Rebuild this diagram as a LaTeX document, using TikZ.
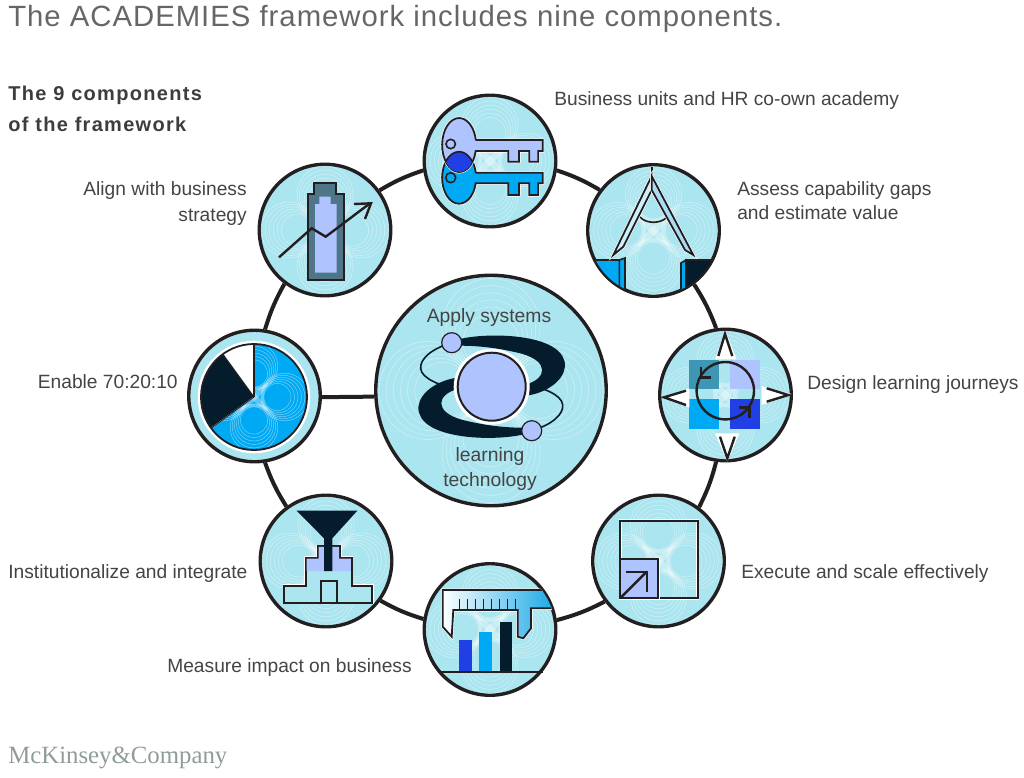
\documentclass[tikz,border=0pt]{standalone}
\usepackage{fontspec}
\setmainfont{Liberation Sans}
\newfontfamily\logofont{Liberation Serif}
\usetikzlibrary{arrows}

\definecolor{ink}{HTML}{231F20}
\definecolor{navy}{HTML}{051C2C}
\definecolor{pale}{HTML}{ABE5EF}
\definecolor{peri}{HTML}{AFC3FF}
\definecolor{sky}{HTML}{00A9F4}
\definecolor{cobalt}{HTML}{2040E6}
\definecolor{teal}{HTML}{3C96B4}
\definecolor{slate}{HTML}{4F7688}
\definecolor{label}{HTML}{444444}
\definecolor{logotype}{HTML}{8E9C9A}

% rings of one component, centred on #1,#2 and scaled by #3
\newcommand{\ripples}[3]{%
	\begin{scope}[shift={(#1,#2)},scale=#3]
		\foreach \ang in {0,90,180,270}
			\foreach \rad in {16,18.4,20.8,23.2,25.6,28}
				\draw[white,opacity=.45,line width=.5pt] (\ang:36-.7*28+.7*\rad) circle (\rad);
		\foreach \ang in {45,135}
			\fill[white,opacity=.35,rotate=\ang] (-24,0) .. controls (-8,-5) and (8,-5) .. (24,0) .. controls (8,5) and (-8,5) .. (-24,0);
	\end{scope}}

\begin{document}
\begin{tikzpicture}[x=1pt,y=-1pt,>=stealth',semithick]
	\tikzstyle{every node}=[text=label,inner sep=0pt,font=\fontsize{19.2}{23}\selectfont]
	\tikzstyle{comp}=[circle,draw=ink,line width=3.4pt,fill=pale,minimum size=131.5pt]
	\tikzstyle{hub}=[comp,minimum size=230.5pt]
	\tikzstyle{ring}=[draw=ink,line width=4pt]
	\tikzstyle{icon}=[draw=ink,line width=1.8pt,line join=miter,preaction={draw=white,line width=3pt}]
	\tikzstyle{stroke}=[draw=ink,line width=2.4pt,line join=miter]

	\useasboundingbox (0,0) rectangle (1024,777);

	\node[hub]	(hub)		at (491,390.5)	{};
	\node[comp]	(keys)		at (490,161)	{};
	\node[comp]	(compass)	at (653.5,230.5)	{};
	\node[comp]	(journey)	at (725.5,395)	{};
	\node[comp]	(execute)	at (658.5,561)	{};
	\node[comp]	(measure)	at (490,629.5)	{};
	\node[comp]	(embed)		at (326,561)	{};
	\node[comp]	(pie)		at (254.5,396)	{};
	\node[comp]	(align)		at (325,230)	{};

	\path[ring]
		(keys.-8.3) edge [bend left=6]		(compass.143.3)
		(compass.-53.3) edge [bend left=6]	(journey.98.3)
		(journey.-98.3) edge [bend left=6]	(execute.53.3)
		(execute.-143.3) edge [bend left=6]	(measure.8.3)
		(measure.171.7) edge [bend left=6]	(embed.-36.7)
		(embed.126.7) edge [bend left=6]	(pie.-81.7)
		(pie.81.7) edge [bend left=6]		(align.233.3)
		(align.36.7) edge [bend left=6]		(keys.188.3)
		(pie.-1) edge						(hub.183.5);

	\ripples{491}{390.5}{1.75}
	\ripples{490}{161}{1}
	\ripples{653.5}{230.5}{1}
	\ripples{725.5}{395}{1}
	\ripples{658.5}{561}{1}
	\ripples{490}{629.5}{1}
	\ripples{326}{561}{1}
	\ripples{325}{230}{1}

	% align: battery and arrow
	\fill[slate,draw=ink,line width=1.8pt] (307.7,280) -- (307.7,194) -- (314.3,194) -- (314.3,182.7) -- (335.7,182.7) -- (335.7,194) -- (343.7,194) -- (343.7,280) -- cycle;
	\fill[peri] (315,272.7) -- (315,204) -- (319.3,204) -- (319.3,196.7) -- (330.7,196.7) -- (330.7,204) -- (336.7,204) -- (336.7,272.7) -- cycle;
	\draw[stroke] (279,257.3) -- (311.7,228.3) -- (325.7,236.7) -- (370,203.3);
	\draw[stroke] (354,204) -- (371,203.3) -- (365,219);

	% keys
	\path[icon,fill=sky] (475.7,172.7) -- (542.7,172.7) -- (542.7,183.3) -- (538.3,183.3) -- (538.3,195) -- (529.3,195) -- (529.3,183.3) -- (519,183.3) -- (519,195) -- (508.3,195) -- (508.3,183.3) -- (475.7,183.3) arc[start angle=12.4,end angle=349,x radius=17,y radius=26];
	\draw[draw=ink,line width=1.6pt] (450.7,177.7) circle (5);
	\path[icon,fill=peri] (475.7,140) -- (542.7,140) -- (542.7,151) -- (538.3,151) -- (538.3,161.7) -- (529.3,161.7) -- (529.3,151) -- (519,151) -- (519,161.7) -- (508.3,161.7) -- (508.3,151) -- (475.7,151) arc[start angle=12.8,end angle=349.3,x radius=17,y radius=27];
	\begin{scope}
		\clip (459,145) ellipse [x radius=17,y radius=27];
		\fill[cobalt,draw=ink,line width=1.6pt] (459,177.7) ellipse [x radius=17,y radius=26];
	\end{scope}
	\draw[draw=ink,line width=1.6pt] (450.7,144) circle (4.7);

	% compass
	\begin{scope}
		\clip (653.5,230.5) circle (65);
		\fill[sky,draw=ink,line width=1.6pt] (590,260) -- (619.3,260) -- (619.3,300) -- (590,300) -- cycle;
		\fill[sky,draw=ink,line width=1.6pt] (619.3,260) -- (625,258) -- (625,300) -- (619.3,300) -- cycle;
		\fill[navy,draw=ink,line width=1.6pt] (686,260) -- (716,260) -- (716,300) -- (686,300) -- cycle;
		\fill[sky,draw=ink,line width=1.6pt] (686,260) -- (681,263) -- (681,300) -- (686,300) -- cycle;
	\end{scope}
	\draw[draw=ink,line width=1.6pt] (640,217) .. controls (646,224) and (661,224) .. (667,217);
	\draw[draw=ink,line width=1.6pt] (651.7,167) -- (651.7,176);
	\path[icon,fill=white!80!sky] (651.7,176) -- (613.3,255) -- (623.3,246.7) -- (651.7,190) -- cycle;
	\path[icon,fill=peri!30!pale] (651.7,176) -- (693.3,255) -- (685,250) -- (651.7,190) -- cycle;

	% journey
	\fill[teal] (689.3,360) rectangle (719,389.3);
	\fill[peri] (730.3,360) rectangle (760,389.3);
	\fill[sky] (689.3,399.3) rectangle (719,428.7);
	\fill[cobalt] (730.3,399.3) rectangle (760,428.7);
	\fill[white] (715,359.3) -- (725.3,330.7) -- (736.7,359.3) -- cycle;
	\fill[white] (715,433.3) -- (727.3,461.7) -- (739.3,433.3) -- cycle;
	\fill[white] (689.3,388.3) -- (661.7,397.3) -- (689.3,407.3) -- cycle;
	\fill[white] (761.7,386) -- (791.7,394) -- (761.7,405) -- cycle;
	\draw[stroke] (718.3,356) -- (725,334) -- (732.3,356);
	\draw[stroke] (720,436.7) -- (727.3,458.3) -- (734.7,436.7);
	\draw[stroke] (686,390.7) -- (664,397.3) -- (686,405);
	\draw[stroke] (766.7,388.3) -- (788.3,395) -- (766.7,401.7);
	\draw[stroke] (725.3,390.7) circle (28.7);
	\draw[stroke] (700.7,366.7) -- (700.7,377.3) -- (710.7,377.3);
	\draw[stroke] (749.3,418.3) -- (749.3,407.3) -- (739.3,407.3);

	% execute
	\path[icon] (620,520.7) rectangle (697.7,598.3);
	\path[icon,fill=peri] (620,559.3) rectangle (658.3,598.3);
	\draw[stroke] (621,597.3) -- (646.7,571.7);
	\draw[stroke] (625.7,571.7) -- (646.7,571.7) -- (646.7,591.7);

	% measure
	\fill[cobalt] (459.3,640) rectangle (471.7,672.3);
	\fill[sky] (479.3,631.7) rectangle (492,672.3);
	\fill[navy] (500,621.7) rectangle (512.3,672.3);
	\draw[draw=ink,line width=2pt] (438.3,672.3) -- (543.3,672.3);
	\begin{scope}
		\clip (490,629.5) circle (65);
		\path[icon,left color=white,right color=sky!75!teal] (442.7,590) -- (560,590) -- (560,608.3) -- (531,608.3) -- (531,628.3) -- (523.3,638.3) -- (517.7,636.7) -- (517.7,610) -- (453.3,610) -- (451.7,636.7) -- (442.7,626.7) -- cycle;
	\end{scope}
	\foreach \tick in {0,...,7}
		\draw[draw=ink,line width=1pt] (459+8*\tick,599.3) -- (459+8*\tick,609);

	% embed
	\path[icon,fill=pale] (284.3,602.7) -- (284.3,585.7) -- (305.7,585.7) -- (305.7,557.7) -- (317.7,557.7) -- (317.7,546) -- (340,546) -- (340,557.7) -- (351.7,557.7) -- (351.7,585.7) -- (372.3,585.7) -- (372.3,602.7) -- cycle;
	\fill[peri] (306.5,571) -- (306.5,558.5) -- (318.5,558.5) -- (318.5,546.8) -- (339.2,546.8) -- (339.2,558.5) -- (350.9,558.5) -- (350.9,571) -- cycle;
	\draw[draw=ink,line width=1.6pt] (320.7,602.7) -- (320.7,580.7) -- (336.7,580.7) -- (336.7,602.7);
	\fill[navy] (296.7,510.7) -- (357.3,510.7) -- (332.3,538.3) -- (332.3,571) -- (324,571) -- (324,538.3) -- cycle;

	% pie
	\begin{scope}[shift={(254,397)}]
		\fill[sky] (0,0) circle (53);
		\begin{scope}
			\clip (0,0) circle (52);
			\ripples{0}{0}{.85}
		\end{scope}
		\fill[navy] (0,0) -- (144:53) arc[start angle=144,end angle=234,radius=53] -- cycle;
		\fill[white] (0,0) -- (234:53) arc[start angle=234,end angle=270,radius=53] -- cycle;
		\draw[white,line width=1pt] (144:53) -- (0,0) -- (270:53);
		\draw[white,line width=3.6pt] (0,0) circle (54.5);
		\draw[ink,line width=1.8pt] (0,0) circle (53);
		\draw[ink,line width=1.5pt] (0,0) -- (270:53);
		\draw[ink,line width=1pt] (0,0) -- (234:53);
		\draw[ink,line width=1pt] (0,0) -- (144:53);
	\end{scope}

	% hub
	\begin{scope}[shift={(491.7,386.7)}]
		\foreach \turn in {0,180} {
			\begin{scope}[rotate=\turn]
				\fill[navy] (-31.7,-47.7) .. controls (-1.7,-55) and (75,-53) .. (73.3,-20) .. controls (71.7,-5) and (53,6.7) .. (34.3,9) -- (34.3,-2.3) .. controls (55,-8) and (58,-25) .. (30,-33) .. controls (10,-38) and (-10,-41) .. (-31.7,-41) -- cycle;
				\draw[navy,line width=1.6pt] (-40,-44) .. controls (-60,-38) and (-72,-28) .. (-71,-18) .. controls (-70,-8) and (-50,0) .. (-33,2);
				\fill[peri,draw=ink,line width=1.2pt] (-40,-44) circle (10);
			\end{scope}
		}
		\draw[white,line width=5pt] (0,0) circle (35.5);
		\fill[peri,draw=ink,line width=2pt] (0,0) circle (34);
	\end{scope}

	% labels
	\node[font=\fontsize{19.3}{23}\selectfont,anchor=base] (hubtop) at (489,322) {Apply systems};
	\node[font=\fontsize{19.3}{23}\selectfont,anchor=base] (hubmid) at (490,461) {learning};
	\node[font=\fontsize{19.3}{23}\selectfont,anchor=base] (hublow) at (490,486) {technology};

	\node[anchor=base west,text=gray!80!black,font=\fontsize{29.3}{33}\selectfont\addfontfeature{LetterSpace=3.4}] (title) at (8,26) {The ACADEMIES framework includes nine components.};
	\node[anchor=base west,text=label!90!black,font=\fontsize{20}{24}\bfseries\selectfont\addfontfeature{LetterSpace=6.5}] (headA) at (8,100) {The 9 components};
	\node[anchor=base west,text=label!90!black,font=\fontsize{20}{24}\bfseries\selectfont\addfontfeature{LetterSpace=6.5}] (headB) at (8,131.5) {of the framework};

	\node[anchor=base west] (lblkeysA) at (554,105) {Business units and HR co-own academy};
	\node[anchor=base west] (lblcompA) at (737,195) {Assess capability gaps};
	\node[anchor=base west] (lblcompB) at (737,219) {and estimate value};
	\node[anchor=base west] (lbljour) at (807,389) {Design learning journeys};
	\node[anchor=base west] (lblexec) at (741,578) {Execute and scale effectively};
	\node[anchor=base east] (lblmeas) at (412,672) {Measure impact on business};
	\node[anchor=base west] (lblembd) at (8,578) {Institutionalize and integrate};
	\node[anchor=base east] (lblpie) at (178,388) {Enable 70:20:10};
	\node[anchor=base east] (lblalgA) at (247,195) {Align with business};
	\node[anchor=base east] (lblalgB) at (247,221) {strategy};

	\node[anchor=base west,text=logotype,font=\logofont\fontsize{24.8}{30}\selectfont] (logo) at (8,763) {McKinsey\&Company};
\end{tikzpicture}
\end{document}
